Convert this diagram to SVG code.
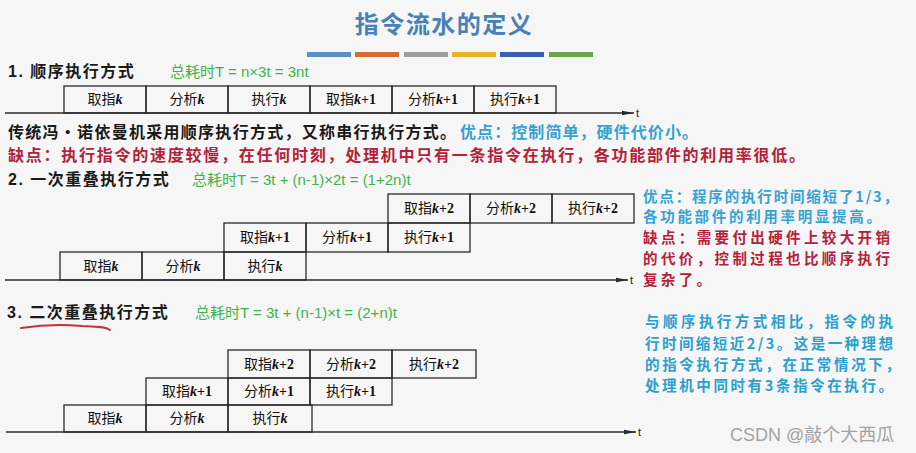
<svg xmlns="http://www.w3.org/2000/svg" width="916" height="453" viewBox="0 0 916 453">
<defs>
<style>
.bg{fill:#f6f6f6}
.box{fill:none;stroke:#2a2a2a;stroke-width:1.3}
.axis{stroke:#2a2a2a;stroke-width:1.4;fill:none}
.lbl{font-family:"Noto Sans CJK SC","Liberation Sans",sans-serif;font-size:14px;fill:#111;text-anchor:middle}
.k{font-family:"Liberation Serif",serif;font-style:italic;font-weight:bold}
.pl{font-family:"Liberation Serif",serif;font-weight:bold}
.sec{font-family:"Liberation Sans","Noto Sans CJK SC",sans-serif;font-size:16px;font-weight:bold;fill:#1a1a1a;letter-spacing:1.5px}
.grn{font-family:"Liberation Sans","Noto Sans CJK SC",sans-serif;font-size:15px;fill:#3db44a}
.body{font-family:"Noto Sans CJK SC",sans-serif;font-size:16px;font-weight:bold}
.side{font-family:"Noto Sans CJK SC",sans-serif;font-size:14.5px;font-weight:bold}
.blk{fill:#1a1a1a}
.blue{fill:#36a2d2}
.red{fill:#b3213a}
.cyan{fill:#2a9fd0}
.tick{font-family:"Liberation Sans",sans-serif;font-size:11px;fill:#222}
</style>
<marker id="arr" viewBox="0 0 12 6" refX="12" refY="3" markerWidth="12" markerHeight="6" markerUnits="userSpaceOnUse" orient="auto">
<path d="M0,0.8 L12,3 L0,5.2 Z" fill="#2a2a2a"/>
</marker>
</defs>
<rect class="bg" x="0" y="0" width="916" height="453"/>

<g id="title">
<text x="444" y="33" text-anchor="middle" font-family="Noto Sans CJK SC,sans-serif" font-size="24" font-weight="bold" fill="#4a80b8" letter-spacing="1.5">指令流水的定义</text>
<rect x="307" y="52" width="44" height="5" fill="#5b8fc6"/>
<rect x="355" y="52" width="44" height="5" fill="#d36e32"/>
<rect x="404" y="52" width="44" height="5" fill="#9d9d9d"/>
<rect x="452" y="52" width="44" height="5" fill="#e7b523"/>
<rect x="500" y="52" width="44" height="5" fill="#3a5fae"/>
<rect x="549" y="52" width="44" height="5" fill="#66a646"/>
</g>

<g id="section1">
<text class="sec" x="8" y="77">1. 顺序执行方式</text>
<text class="grn" x="170" y="77">总耗时T = n×3t = 3nt</text>
</g>
<g id="s1-boxes">
<rect class="box" x="64" y="86" width="82" height="27"/>
<rect class="box" x="146" y="86" width="82" height="27"/>
<rect class="box" x="228" y="86" width="82" height="27"/>
<rect class="box" x="310" y="86" width="82" height="27"/>
<rect class="box" x="392" y="86" width="82" height="27"/>
<rect class="box" x="474" y="86" width="82" height="27"/>
<text class="lbl" x="105" y="104">取指<tspan class="k">k</tspan></text>
<text class="lbl" x="187" y="104">分析<tspan class="k">k</tspan></text>
<text class="lbl" x="269" y="104">执行<tspan class="k">k</tspan></text>
<text class="lbl" x="351" y="104">取指<tspan class="k">k</tspan><tspan class="pl">+1</tspan></text>
<text class="lbl" x="433" y="104">分析<tspan class="k">k</tspan><tspan class="pl">+1</tspan></text>
<text class="lbl" x="515" y="104">执行<tspan class="k">k</tspan><tspan class="pl">+1</tspan></text>
</g>
<g id="s1-text">
<text class="body blk" x="8" y="138" textLength="448" lengthAdjust="spacing">传统冯·诺依曼机采用顺序执行方式，又称串行执行方式。</text>
<text class="body blue" x="460" y="138" textLength="238" lengthAdjust="spacing">优点：控制简单，硬件代价小。</text>
<text class="body red" x="8" y="161" textLength="797" lengthAdjust="spacing">缺点：执行指令的速度较慢，在任何时刻，处理机中只有一条指令在执行，各功能部件的利用率很低。</text>
</g>

<g id="section2">
<text class="sec" x="8" y="185">2. 一次重叠执行方式</text>
<text class="grn" x="192" y="185">总耗时T = 3t + (n-1)×2t = (1+2n)t</text>
</g>
<g id="s2-boxes">
<rect class="box" x="388" y="194" width="82" height="29"/>
<rect class="box" x="470" y="194" width="82" height="29"/>
<rect class="box" x="552" y="194" width="82" height="29"/>
<rect class="box" x="224" y="223" width="82" height="29"/>
<rect class="box" x="306" y="223" width="82" height="29"/>
<rect class="box" x="388" y="223" width="82" height="29"/>
<rect class="box" x="60" y="252" width="82" height="28"/>
<rect class="box" x="142" y="252" width="82" height="28"/>
<rect class="box" x="224" y="252" width="82" height="28"/>
<text class="lbl" x="429" y="213">取指<tspan class="k">k</tspan><tspan class="pl">+2</tspan></text>
<text class="lbl" x="511" y="213">分析<tspan class="k">k</tspan><tspan class="pl">+2</tspan></text>
<text class="lbl" x="593" y="213">执行<tspan class="k">k</tspan><tspan class="pl">+2</tspan></text>
<text class="lbl" x="265" y="242">取指<tspan class="k">k</tspan><tspan class="pl">+1</tspan></text>
<text class="lbl" x="347" y="242">分析<tspan class="k">k</tspan><tspan class="pl">+1</tspan></text>
<text class="lbl" x="429" y="242">执行<tspan class="k">k</tspan><tspan class="pl">+1</tspan></text>
<text class="lbl" x="101" y="271">取指<tspan class="k">k</tspan></text>
<text class="lbl" x="183" y="271">分析<tspan class="k">k</tspan></text>
<text class="lbl" x="265" y="271">执行<tspan class="k">k</tspan></text>
</g>
<g id="s2-text">
<text class="side blue" x="643" y="202" textLength="255" lengthAdjust="spacing">优点：程序的执行时间缩短了1/3，</text>
<text class="side blue" x="643" y="222" textLength="238" lengthAdjust="spacing">各功能部件的利用率明显提高。</text>
<text class="side red" x="643" y="243" textLength="247" lengthAdjust="spacing">缺点：需要付出硬件上较大开销</text>
<text class="side red" x="643" y="264" textLength="247" lengthAdjust="spacing">的代价，控制过程也比顺序执行</text>
<text class="side red" x="643" y="285" textLength="68" lengthAdjust="spacing">复杂了。</text>
</g>

<g id="section3">
<text class="sec" x="7" y="318">3. 二次重叠执行方式</text>
<path d="M21,328 C40,325 62,324 82,326 C96,327 104,326 110,330" fill="none" stroke="#c23344" stroke-width="2" stroke-linecap="round"/>
<text class="grn" x="195" y="318">总耗时T = 3t + (n-1)×t = (2+n)t</text>
</g>
<g id="s3-boxes">
<rect class="box" x="228" y="350" width="82" height="28"/>
<rect class="box" x="310" y="350" width="82" height="28"/>
<rect class="box" x="392" y="350" width="84" height="28"/>
<rect class="box" x="146" y="378" width="82" height="27"/>
<rect class="box" x="228" y="378" width="82" height="27"/>
<rect class="box" x="310" y="378" width="82" height="27"/>
<rect class="box" x="64" y="405" width="82" height="27"/>
<rect class="box" x="146" y="405" width="82" height="27"/>
<rect class="box" x="228" y="405" width="84" height="27"/>
<text class="lbl" x="269" y="369">取指<tspan class="k">k</tspan><tspan class="pl">+2</tspan></text>
<text class="lbl" x="351" y="369">分析<tspan class="k">k</tspan><tspan class="pl">+2</tspan></text>
<text class="lbl" x="434" y="369">执行<tspan class="k">k</tspan><tspan class="pl">+2</tspan></text>
<text class="lbl" x="187" y="396">取指<tspan class="k">k</tspan><tspan class="pl">+1</tspan></text>
<text class="lbl" x="269" y="396">分析<tspan class="k">k</tspan><tspan class="pl">+1</tspan></text>
<text class="lbl" x="351" y="396">执行<tspan class="k">k</tspan><tspan class="pl">+1</tspan></text>
<text class="lbl" x="105" y="423">取指<tspan class="k">k</tspan></text>
<text class="lbl" x="187" y="423">分析<tspan class="k">k</tspan></text>
<text class="lbl" x="270" y="423">执行<tspan class="k">k</tspan></text>
</g>
<g id="s3-text">
<text class="side cyan" x="645" y="327" textLength="248" lengthAdjust="spacing">与顺序执行方式相比，指令的执</text>
<text class="side cyan" x="645" y="349" textLength="248" lengthAdjust="spacing">行时间缩短近2/3。这是一种理想</text>
<text class="side cyan" x="645" y="370" textLength="255" lengthAdjust="spacing">的指令执行方式，在正常情况下，</text>
<text class="side cyan" x="645" y="391" textLength="248" lengthAdjust="spacing">处理机中同时有3条指令在执行。</text>
</g>

<g id="connectors">
<line class="axis" x1="5" y1="113" x2="634" y2="113" marker-end="url(#arr)"/>
<line class="axis" x1="5" y1="280" x2="628" y2="280" marker-end="url(#arr)"/>
<line class="axis" x1="6" y1="432" x2="636" y2="432" marker-end="url(#arr)"/>
<text class="tick" x="636" y="117">t</text>
<text class="tick" x="630" y="284">t</text>
<text class="tick" x="638" y="436">t</text>
</g>

<text x="730" y="441" font-family="Liberation Sans,Noto Sans CJK SC,sans-serif" font-size="18" fill="#a3a3a3">CSDN @敲个大西瓜</text>
</svg>
